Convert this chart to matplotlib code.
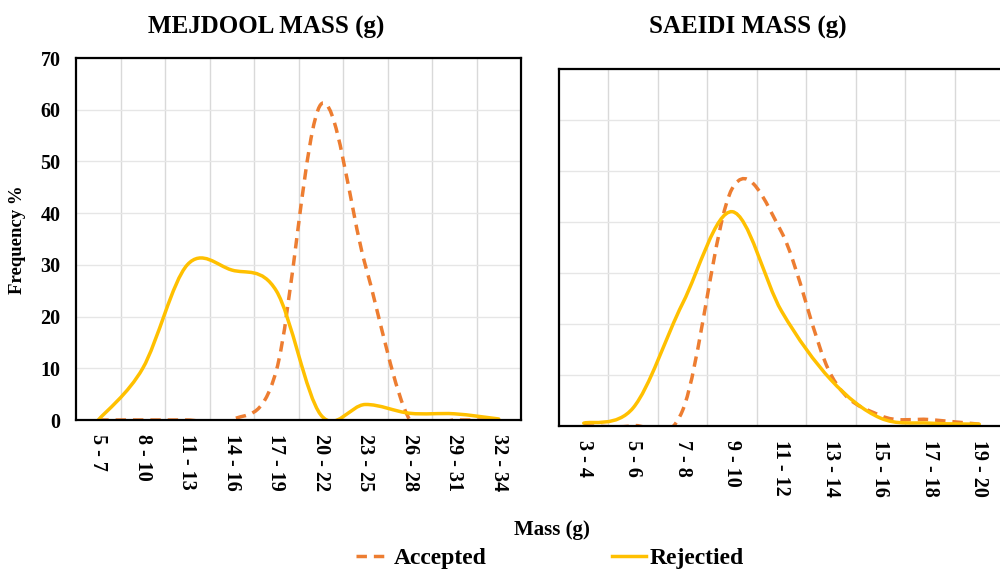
import numpy as np
import matplotlib.pyplot as plt
from matplotlib.path import Path
from matplotlib.patches import PathPatch
from matplotlib.lines import Line2D

plt.rcParams['font.family'] = ['Liberation Serif', 'DejaVu Serif']
plt.rcParams['font.weight'] = 'bold'

# Mejdool
mej_bins = ['5 - 7', '8 - 10', '11 - 13', '14 - 16', '17 - 19',
            '20 - 22', '23 - 25', '26 - 28', '29 - 31', '32 - 34']
mej_accepted = [0, 0, 0, 0, 9.5, 61, 30, 0, 0, 0]
mej_rejected = [0, 10, 30, 29, 25, 1.0, 3, 1.3, 1.2, 0.2]

# Saeidi
sae_bins = ['3 - 4', '5 - 6', '7 - 8', '9 - 10', '11 - 12',
            '13 - 14', '15 - 16', '17 - 18', '19 - 20']
sae_accepted = [0, 0, 3, 46.5, 38, 10, 2, 1.2, 0.3]
sae_rejected = [0.5, 3.5, 24, 42, 22.5, 9, 1.5, 0.5, 0.3]

ORANGE = '#ED7D31'
YELLOW = '#FFC000'


def smooth_path(values):
    # Excel-like smoothed line: cubic bezier through each point
    y = np.asarray(values, dtype=float)
    x = np.arange(len(y), dtype=float)
    n = len(y)
    verts = [(x[0], y[0])]
    codes = [Path.MOVETO]
    for i in range(n - 1):
        i0 = max(i - 1, 0)
        i3 = min(i + 2, n - 1)
        c1 = (x[i] + (x[i + 1] - x[i0]) / 6, y[i] + (y[i + 1] - y[i0]) / 6)
        c2 = (x[i + 1] - (x[i3] - x[i]) / 6, y[i + 1] - (y[i3] - y[i]) / 6)
        verts += [c1, c2, (x[i + 1], y[i + 1])]
        codes += [Path.CURVE4] * 3
    return Path(verts, codes)


def draw(ax, bins, accepted, rejected, show_y):
    ax.add_patch(PathPatch(smooth_path(accepted), fill=False, edgecolor=ORANGE,
                           lw=2.5, linestyle=(0, (3, 2)), capstyle='butt'))
    ax.add_patch(PathPatch(smooth_path(rejected), fill=False, edgecolor=YELLOW,
                           lw=2.5, capstyle='round'))
    ax.set_xlim(-0.5, len(bins) - 0.5)
    ax.set_ylim(0, 70)
    ax.set_xticks(range(len(bins)))
    ax.set_xticklabels(bins, rotation=270, fontsize=14.5, fontweight='bold')
    ax.set_xticks(np.arange(0.5, len(bins) - 0.5), minor=True)
    ax.set_yticks(range(0, 71, 10))
    ax.grid(True, which='minor', axis='x', color='#D9D9D9', lw=1)
    ax.grid(True, which='major', axis='y', color='#E6E6E6', lw=1)
    ax.tick_params(axis='both', which='both', length=0)
    ax.tick_params(axis='x', pad=10)
    ax.tick_params(axis='y', pad=11)
    if show_y:
        for t in ax.get_yticklabels():
            t.set_fontsize(14.5)
            t.set_fontweight('bold')
    else:
        ax.set_yticklabels([])
    for s in ax.spines.values():
        s.set_linewidth(1.6)
        s.set_color('black')
    ax.set_axisbelow(True)


fig = plt.figure(figsize=(10, 5.71), dpi=100)
ax1 = fig.add_axes([0.076, 1 - 420 / 571, 0.445, 362 / 571])
ax2 = fig.add_axes([0.559, 1 - 425.7 / 571, 0.445, 356.7 / 571])

draw(ax1, mej_bins, mej_accepted, mej_rejected, True)
draw(ax2, sae_bins, sae_accepted, sae_rejected, False)

fig.text(0.266, 1 - 27 / 571, 'MEJDOOL MASS (g)', ha='center', va='center',
         fontsize=18, fontweight='bold')
fig.text(0.748, 1 - 27 / 571, 'SAEIDI MASS (g)', ha='center', va='center',
         fontsize=18, fontweight='bold')
fig.text(0.018, 1 - 240 / 571, 'Frequency %', rotation=90, ha='center',
         va='center', fontsize=13.5, fontweight='bold')
fig.text(0.552, 1 - 530 / 571, 'Mass (g)', ha='center', va='center',
         fontsize=15, fontweight='bold')

handles = [Line2D([], [], color=ORANGE, lw=2.5, ls=(0, (3, 2))),
           Line2D([], [], color=YELLOW, lw=2.5)]
fig.legend(handles, ['Accepted', 'Rejectied'], loc='center',
           bbox_to_anchor=(0.55, 1 - 558 / 571), ncol=2, frameon=False,
           prop={'size': 17, 'weight': 'bold'}, handlelength=1.45,
           handletextpad=0.15, columnspacing=5.3)

fig.savefig('out.png', dpi=100)
